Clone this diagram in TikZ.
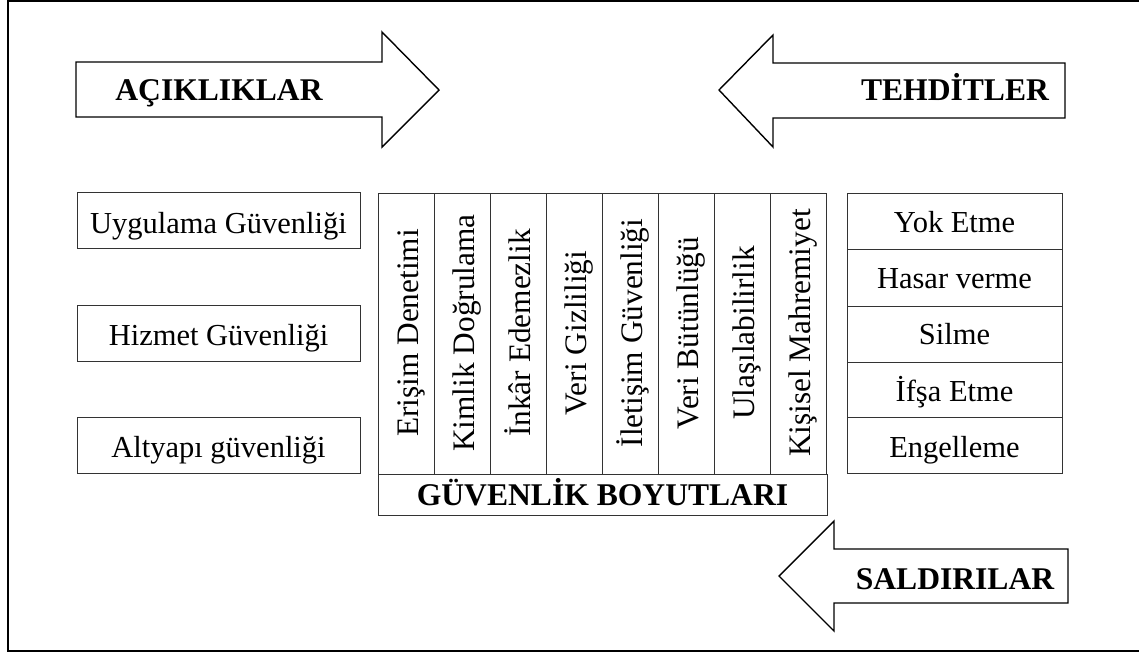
\documentclass[tikz,border=0pt]{standalone}
\usepackage{fontspec}
\setmainfont{Liberation Serif}
\begin{document}
\begin{tikzpicture}[x=1pt,y=-1pt,
  cell/.style={draw=black!80,line width=0.9pt,inner sep=0pt},
  vcell/.style={cell,minimum width=56.1pt,minimum height=281pt},
  rcell/.style={cell,minimum width=215pt,minimum height=56pt},
  lbox/.style={cell,minimum width=283pt,minimum height=56pt},
  txt/.style={inner sep=0pt,anchor=base,font=\fontsize{30.5}{32}\selectfont},
  vtxt/.style={inner sep=0pt,anchor=base,rotate=90,font=\fontsize{31.3}{33}\selectfont},
  arrowshape/.style={draw=black,line width=1.4pt,line join=miter,fill=white},
  biglabel/.style={font=\bfseries\fontsize{31.6}{33}\selectfont,inner sep=0pt,anchor=base}
]
\useasboundingbox (0,0) rectangle (1139,654);
\begin{scope}
\clip (0,0) rectangle (1139,654);
\draw[line width=2.6pt] (8,1) rectangle (1150,651);
\end{scope}

% arrows
\draw[arrowshape] (76,62) -- (382,62) -- (382,32) -- (439,90) -- (382,147) -- (382,117) -- (76,117) -- cycle;
\node[biglabel] (acik) at (219,100) {AÇIKLIKLAR};

\draw[arrowshape] (1065,63) -- (773,63) -- (773,35) -- (719,90) -- (773,147) -- (773,118) -- (1065,118) -- cycle;
\node[biglabel] (tehdit) at (955,100) {TEHDİTLER};

\draw[arrowshape] (1068,549) -- (834,549) -- (834,521) -- (779,576) -- (834,631) -- (834,603) -- (1068,603) -- cycle;
\node[biglabel] (saldiri) at (955,589) {SALDIRILAR};

% left boxes
\node[lbox] (ug) at (218.5,220.5) {};
\node[txt] (ugt) at (218.5,233) {Uygulama Güvenliği};
\node[lbox] (hg) at (218.5,333.5) {};
\node[txt] (hgt) at (218.5,345) {Hizmet Güvenliği};
\node[lbox] (ag) at (218.5,445) {};
\node[txt] (agt) at (218.5,457) {Altyapı güvenliği};

% middle columns
\foreach \i/\t in {0/Erişim Denetimi,1/Kimlik Doğrulama,2/İnkâr Edemezlik,3/Veri Gizliliği,4/İletişim Güvenliği,5/Veri Bütünlüğü,6/Ulaşılabilirlik,7/Kişisel Mahremiyet}{
  \node[vcell] (c\i) at ({378+56.1*\i+28.05},333.5) {};
  \node[vtxt] (t\i) at ({378+56.1*\i+28.05+12},333) {\t};
}
\node[cell,minimum width=449pt,minimum height=41pt] (gb) at (602.5,494.5) {};
\node[biglabel] (gbt) at (602.5,505) {GÜVENLİK BOYUTLARI};

% right boxes
\node[rcell] (r1) at (954.5,221) {};
\node[txt] (r1t) at (954.5,232) {Yok Etme};
\node[rcell,minimum height=57pt] (r2) at (954.5,277.5) {};
\node[txt] (r2t) at (954.5,288) {Hasar verme};
\node[rcell] (r3) at (954.5,334) {};
\node[txt] (r3t) at (954.5,344) {Silme};
\node[rcell,minimum height=55pt] (r4) at (954.5,389.5) {};
\node[txt] (r4t) at (954.5,401) {İfşa Etme};
\node[rcell] (r5) at (954.5,445) {};
\node[txt] (r5t) at (954.5,457) {Engelleme};
\end{tikzpicture}
\end{document}
